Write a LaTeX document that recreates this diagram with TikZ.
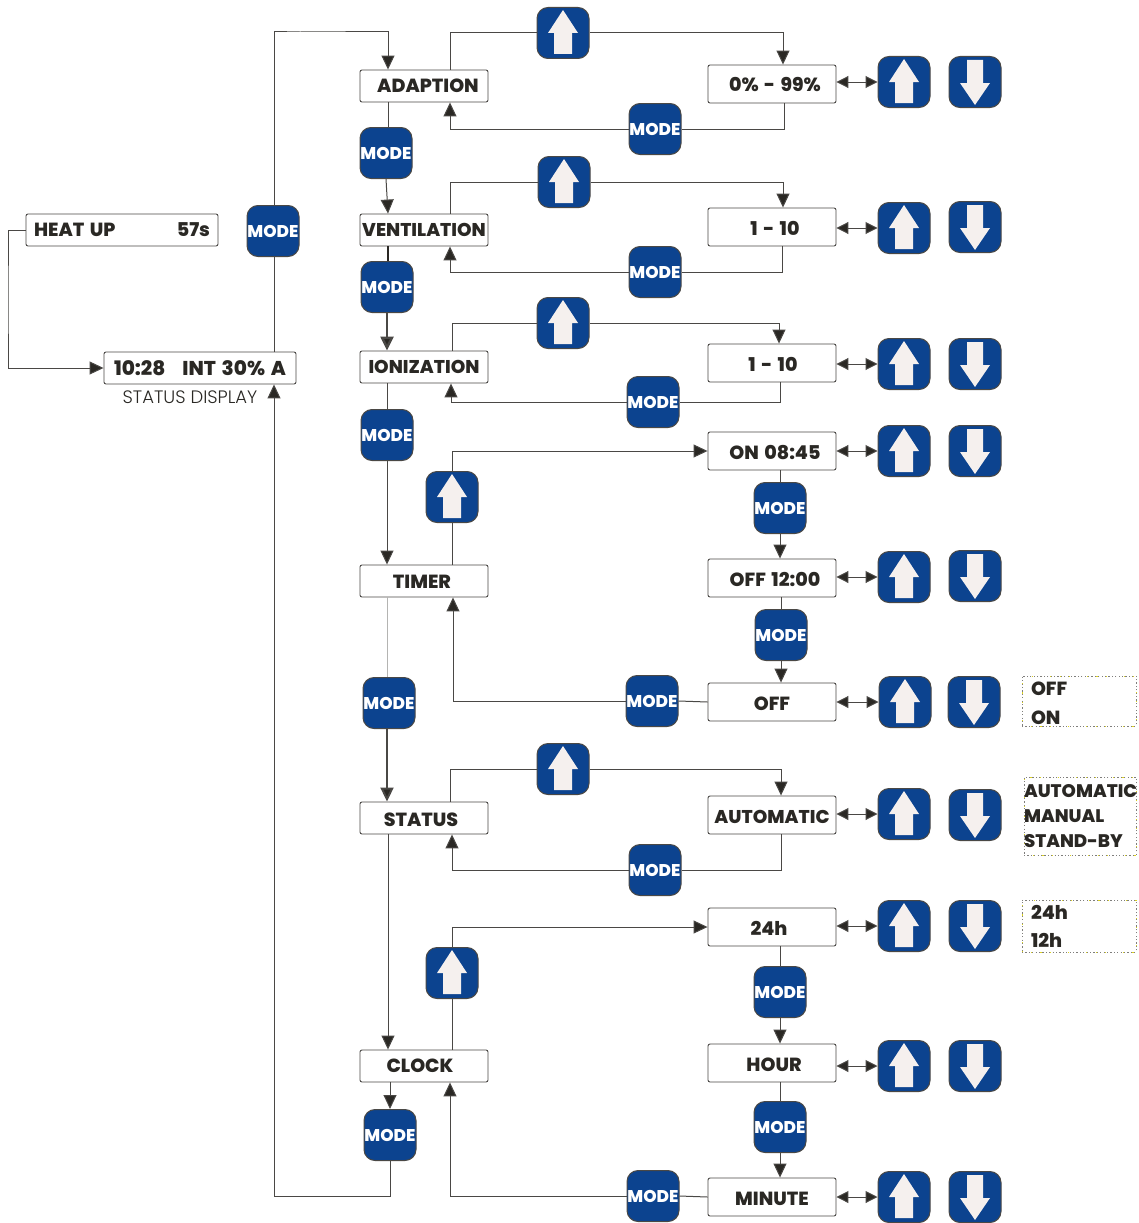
\documentclass[tikz,border=0pt]{standalone}
\usepackage{fontspec}
\setmainfont{Poppins}[BoldFont=* ExtraBold,WordSpace=1.5]
\newfontfamily\lightfont{Poppins Light}
\usetikzlibrary{arrows.meta}
\definecolor{btnblue}{HTML}{0C438F}
\definecolor{ink}{HTML}{2A2824}
\definecolor{arrowwhite}{HTML}{F5F0EE}
\tikzset{
  line/.style={draw=ink!85,line width=1pt},
  arr/.style={line,-{Triangle[length=14pt,width=13pt,fill=ink]}},
  harr/.style={line,{Triangle[length=12pt,width=12pt,fill=ink]}-{Triangle[length=12pt,width=12pt,fill=ink]}},
  thick line/.style={draw=ink,line width=2.4pt},
  box/.style={draw=ink!85,line width=0.9pt,fill=white,rounded corners=2pt,inner sep=0pt,minimum width=128pt,
    font=\fontsize{19}{22}\selectfont\bfseries,text=ink},
  wide box/.style={box,minimum width=192pt,minimum height=32pt},
  menu/.style={box,minimum height=32pt},
  val/.style={box,minimum height=38pt,text height=16pt,text depth=0pt},
  btn/.style={draw=ink!85,line width=1pt,fill=btnblue,rounded corners=11pt,minimum width=52pt,minimum height=51pt,inner sep=0pt},
  modebtn/.style={btn,text=white,font=\fontsize{17}{18}\selectfont\bfseries},
  upbtn/.style={btn,path picture={
    \begin{scope}[shift={(path picture bounding box.center)},sharp corners]
      \fill[arrowwhite] (0,-23)--(15,0)--(9,0)--(9,21)--(-9,21)--(-9,0)--(-15,0)--cycle;
    \end{scope}}},
  downbtn/.style={btn,path picture={
    \begin{scope}[shift={(path picture bounding box.center)},sharp corners]
      \fill[arrowwhite] (0,23)--(15,1)--(8,1)--(8,-22)--(-8,-22)--(-8,1)--(-15,1)--cycle;
    \end{scope}}},
  optbox/.style={draw=ink!60,line width=1pt,dash pattern=on 1.2pt off 2.2pt,inner sep=0pt,
    preaction={draw=yellow!85!black,dash pattern=on 1.2pt off 8pt},
    minimum width=114pt,text width=114pt,align=left,text=ink,font=\fontsize{19}{28}\selectfont\bfseries},
  caption/.style={font=\fontsize{18}{20}\selectfont\lightfont,text=ink,inner sep=0pt},
}
\begin{document}
\begin{tikzpicture}[x=1pt,y=-1pt]
\useasboundingbox (0,0) rectangle (1139,1223);

% left boxes
\node[wide box] (heat) at (122,230) {\makebox[176pt]{HEAT UP\hfill 57s}\hspace{6pt}};
\node[wide box,font=\fontsize{20}{22}\selectfont\bfseries] (statusd) at (200,368) {10:28\hspace{17pt}INT 30\% A\hspace{4pt}};
\node[caption] (statuscap) at (190,397) {STATUS DISPLAY};

% menu column
\node[menu] (adaption) at (424,86) {\hspace{8pt}ADAPTION};
\node[menu,font=\fontsize{18.5}{22}\selectfont\bfseries] (ventilation) at (424,230) {VENTILATION};
\node[menu,font=\fontsize{18.5}{22}\selectfont\bfseries] (ionization) at (424,367) {IONIZATION};
\node[menu,text height=15pt,text depth=0pt] (timer) at (424,581) {\hspace{-4pt}TIMER};
\node[menu,text height=17pt,text depth=0pt] (status) at (424,818) {\hspace{-6pt}STATUS};
\node[menu] (clock) at (424,1066) {\hspace{-8pt}CLOCK};

% value column
\node[val] (vadapt) at (772,84) {\hspace{6pt}0\% - 99\%};
\node[val] (vvent) at (772,227) {\hspace{6pt}1 - 10};
\node[val] (vion) at (772,363) {\hspace{2pt}1 - 10};
\node[val] (von) at (772,451) {\hspace{6pt}ON 08:45};
\node[val] (voff) at (772,578) {\hspace{6pt}OFF 12:00};
\node[val] (voffb) at (772,702) {OFF};
\node[val,font=\fontsize{18.5}{22}\selectfont\bfseries] (vauto) at (772,815) {AUTOMATIC};
\node[val] (v24) at (772,927) {\hspace{-6pt}24h};
\node[val] (vhour) at (772,1063) {\hspace{4pt}HOUR};
\node[val] (vmin) at (772,1197) {MINUTE};

% MODE buttons
\node[modebtn] (mstatus) at (273,231) {MODE};
\node[modebtn] (ma) at (386,153) {MODE};
\node[modebtn] (mv) at (387,287) {MODE};
\node[modebtn] (mi) at (387,435) {MODE};
\node[modebtn] (mt) at (389,703) {MODE};
\node[modebtn] (mc) at (390,1135) {MODE};
\node[modebtn] (rma) at (655,129) {MODE};
\node[modebtn] (rmv) at (655,272) {MODE};
\node[modebtn] (rmi) at (653,402) {MODE};
\node[modebtn] (rmt) at (652,701) {MODE};
\node[modebtn] (rms) at (655,870) {MODE};
\node[modebtn] (rmc) at (653,1196) {MODE};
\node[modebtn] (mon) at (780,508) {MODE};
\node[modebtn] (moff) at (781,635) {MODE};
\node[modebtn] (m24) at (780,992) {MODE};
\node[modebtn] (mhour) at (780,1127) {MODE};

% UP buttons in the flow
\node[upbtn] (ua) at (563,33) {};
\node[upbtn] (uv) at (564,182) {};
\node[upbtn] (ui) at (563,323) {};
\node[upbtn] (ut) at (452,497) {};
\node[upbtn] (us) at (563,769) {};
\node[upbtn] (uc) at (452,973) {};

% UP / DOWN pairs
\foreach \n/\yu/\yd in {a/82/82,b/228/227,c/364/364,d/451/451,e/577/576,g/814/815,h/926/926,i/1066/1066,j/1197/1197}{
  \node[upbtn] (up\n) at (904,\yu) {};
  \node[downbtn] (dn\n) at (975,\yd) {};
}
\node[upbtn] (upf) at (905,702) {};
\node[downbtn] (dnf) at (974,702) {};

% option boxes
\node[optbox,minimum height=50pt,font=\fontsize{19}{29}\selectfont\bfseries] (opt1) at (1079,701) {\hspace{9pt}\rule{0pt}{19pt}OFF\\\hspace{9pt}ON};
\node[optbox,minimum height=78pt,minimum width=112pt,text width=112pt,font=\fontsize{18.2}{25}\selectfont\bfseries] (opt2) at (1080,816) {AUTOMATIC\\MANUAL\\STAND-BY};
\node[optbox,minimum height=52pt] (opt3) at (1079,926) {\hspace{9pt}24h\\\hspace{9pt}12h};

% left loop
\coordinate (hl) at (8,300);
\draw[arr] (heat.west) -| (hl) |- (statusd.west);
\draw[line] ([xshift=74pt]statusd.north) -- ([xshift=1pt]mstatus.south);
\coordinate (topl) at (300,32);
\draw[arr] ([xshift=1pt]mstatus.north) |- (topl) -| ([xshift=-36pt]adaption.north);
\coordinate (botl) at (300,1196);
\draw[line] (mc.south) |- (botl);
\draw[arr] (botl) -| ([xshift=74pt]statusd.south);

% main column
\draw[line] ([xshift=-36pt]adaption.south) -- ([xshift=2pt]ma.north);
\draw[arr] (ma.south) -- ([xshift=-36pt]ventilation.north);
\draw[thick line] ([xshift=-36pt]ventilation.south) -- ([xshift=1pt]mv.north);
\draw[arr,line width=2.4pt] (mv.south) -- ([xshift=-37pt]ionization.north);
\draw[line] ([xshift=-37pt]ionization.south) -- (mi.north);
\draw[arr] (mi.south) -- ([xshift=-37pt]timer.north);
\draw[draw=ink!35,line width=0.7pt] ([xshift=-37pt]timer.south) -- ([xshift=-2pt]mt.north);
\draw[arr,line width=2pt] ([xshift=-2pt]mt.south) -- ([xshift=-37pt]status.north);
\draw[arr] ([xshift=-36pt]status.south) -- ([xshift=-36pt]clock.north);
\draw[arr] ([xshift=-34pt]clock.south) -- (mc.north);

% ADAPTION loop
\draw[line] ([xshift=26pt]adaption.north) |- (ua.west);
\draw[arr] (ua.east) -| ([xshift=11pt]vadapt.north);
\draw[line] ([xshift=12pt]vadapt.south) |- (rma.east);
\draw[arr] (rma.west) -| ([xshift=26pt]adaption.south);
% VENTILATION loop
\draw[line] ([xshift=26pt]ventilation.north) |- (uv.west);
\draw[arr] (uv.east) -| ([xshift=11pt]vvent.north);
\draw[line] ([xshift=10pt]vvent.south) |- (rmv.east);
\draw[arr] (rmv.west) -| ([xshift=26pt]ventilation.south);
% IONIZATION loop
\draw[line] ([xshift=28pt]ionization.north) |- (ui.west);
\draw[arr] (ui.east) -| ([xshift=7pt]vion.north);
\draw[line] ([xshift=8pt]vion.south) |- (rmi.east);
\draw[arr] (rmi.west) -| ([xshift=27pt]ionization.south);
% TIMER loop
\draw[line] ([xshift=28pt]timer.north) -- (ut.south);
\draw[arr] (ut.north) |- (von.west);
\draw[line] ([xshift=8pt]von.south) -- (mon.north);
\draw[arr] (mon.south) -- ([xshift=8pt]voff.north);
\draw[line] ([xshift=9pt]voff.south) -- (moff.north);
\draw[arr] (moff.south) -- ([xshift=9pt]voffb.north);
\draw[line] (voffb.west) -- (rmt.east);
\draw[arr] (rmt.west) -| ([xshift=29pt]timer.south);
% STATUS loop
\draw[line] ([xshift=26pt]status.north) |- (us.west);
\draw[arr] (us.east) -| ([xshift=9pt]vauto.north);
\draw[line] ([xshift=9pt]vauto.south) |- (rms.east);
\draw[arr] (rms.west) -| ([xshift=28pt]status.south);
% CLOCK loop
\draw[line] ([xshift=28pt]clock.north) -- (uc.south);
\draw[arr] (uc.north) |- (v24.west);
\draw[line] ([xshift=8pt]v24.south) -- (m24.north);
\draw[arr] (m24.south) -- ([xshift=8pt]vhour.north);
\draw[line] ([xshift=8pt]vhour.south) -- (mhour.north);
\draw[arr] (mhour.south) -- ([xshift=8pt]vmin.north);
\draw[line] (vmin.west) -- (rmc.east);
\draw[arr] (rmc.west) -| ([xshift=26pt]clock.south);

% value to UP arrows
\draw[harr] (vadapt.east |- upa.west) -- (upa.west);
\draw[harr] (vvent.east |- upb.west) -- (upb.west);
\draw[harr] (vion.east |- upc.west) -- (upc.west);
\draw[harr] (von.east |- upd.west) -- (upd.west);
\draw[harr] (voff.east |- upe.west) -- (upe.west);
\draw[harr] (voffb.east |- upf.west) -- (upf.west);
\draw[harr] (vauto.east |- upg.west) -- (upg.west);
\draw[harr] (v24.east |- uph.west) -- (uph.west);
\draw[harr] (vhour.east |- upi.west) -- (upi.west);
\draw[harr] (vmin.east |- upj.west) -- (upj.west);
\end{tikzpicture}
\end{document}
